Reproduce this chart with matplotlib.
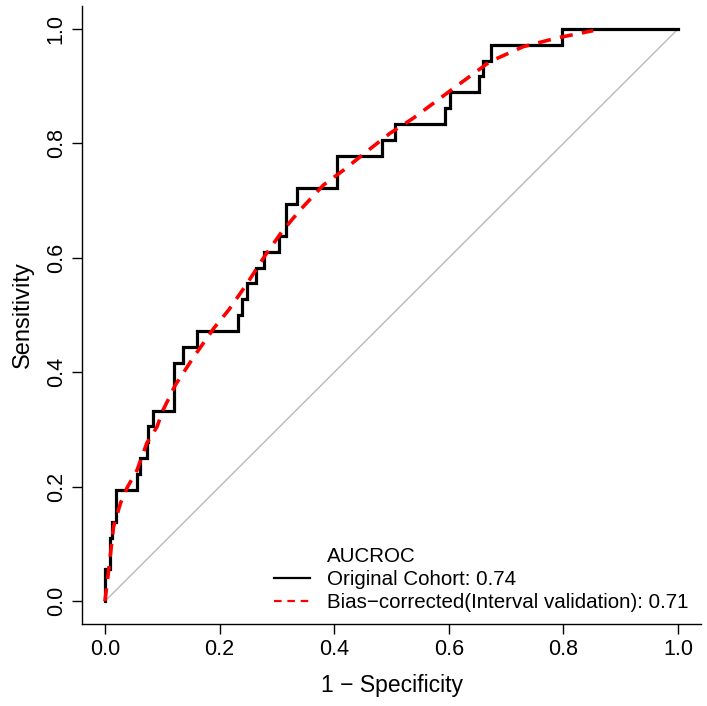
"""ROC curve: original cohort vs bias-corrected (internal validation)."""

import matplotlib

matplotlib.use("Agg")
import matplotlib.pyplot as plt
from matplotlib.lines import Line2D

plt.rcParams["font.family"] = ["Liberation Sans", "DejaVu Sans"]

# original cohort ROC, step curve (1 - specificity, sensitivity)
orig_fpr = [0.0, 0.0, 0.0095, 0.0095, 0.013, 0.013, 0.019, 0.019, 0.056, 0.056, 0.062,
            0.062, 0.073, 0.073, 0.076, 0.076, 0.083, 0.083, 0.12, 0.12, 0.137, 0.137,
            0.16, 0.16, 0.232, 0.232, 0.239, 0.239, 0.248, 0.248, 0.264, 0.264, 0.278,
            0.278, 0.303, 0.303, 0.316, 0.316, 0.335, 0.335, 0.405, 0.405, 0.483, 0.483,
            0.506, 0.506, 0.594, 0.594, 0.602, 0.602, 0.652, 0.652, 0.660, 0.660, 0.674,
            0.674, 0.797, 0.797, 1.0]
orig_tpr = [0.0, 0.056, 0.056, 0.111, 0.111, 0.139, 0.139, 0.194, 0.194, 0.222, 0.222,
            0.250, 0.250, 0.278, 0.278, 0.306, 0.306, 0.333, 0.333, 0.417, 0.417, 0.444,
            0.444, 0.472, 0.472, 0.500, 0.500, 0.528, 0.528, 0.556, 0.556, 0.583, 0.583,
            0.611, 0.611, 0.639, 0.639, 0.694, 0.694, 0.722, 0.722, 0.778, 0.778, 0.806,
            0.806, 0.833, 0.833, 0.861, 0.861, 0.889, 0.889, 0.917, 0.917, 0.944, 0.944,
            0.972, 0.972, 1.0, 1.0]

# bias-corrected smooth curve
bc_fpr = [0.0, 0.0065, 0.015, 0.027, 0.0385, 0.056, 0.073, 0.091, 0.1, 0.123, 0.155, 0.19,
          0.216, 0.248, 0.28, 0.309, 0.341, 0.381, 0.416, 0.457, 0.498, 0.538, 0.608,
          0.672, 0.73, 0.788, 0.852]
bc_tpr = [0.0, 0.054, 0.13, 0.171, 0.198, 0.229, 0.276, 0.305, 0.331, 0.378, 0.427, 0.477,
          0.509, 0.555, 0.605, 0.646, 0.684, 0.727, 0.753, 0.786, 0.818, 0.844, 0.896,
          0.943, 0.969, 0.984, 0.997]

auc_orig = 0.74
auc_bc = 0.71
ticks = [0.0, 0.2, 0.4, 0.6, 0.8, 1.0]

fig = plt.figure(figsize=(7.07, 7.06), dpi=100)
ax = fig.add_axes([0.116, 0.116, 0.8755, 0.8755])

ax.plot([0, 1], [0, 1], color="#bebebe", lw=1.1)
ax.plot(orig_fpr, orig_tpr, color="black", lw=2.3, solid_joinstyle="miter")
ax.plot(bc_fpr, bc_tpr, color="#ff0000", lw=2.6, linestyle=(0, (3.6, 2.6)))

ax.set_xlim(-0.04, 1.04)
ax.set_ylim(-0.04, 1.04)
ax.set_xticks(ticks)
ax.set_yticks(ticks)
ax.set_xticklabels([f"{t:.1f}" for t in ticks])
ax.set_yticklabels([f"{t:.1f}" for t in ticks], rotation=90, va="center")
ax.tick_params(direction="out", length=7.2, width=1, labelsize=15.5, pad=3.8)
for side in ("top", "right"):
    ax.spines[side].set_visible(False)
for side in ("left", "bottom"):
    ax.spines[side].set_linewidth(1)

ax.set_xlabel("1 \u2212 Specificity", fontsize=16.5, labelpad=10)
ax.set_ylabel("Sensitivity", fontsize=17, labelpad=8.5)

handles = [
    Line2D([], [], color="none"),
    Line2D([], [], color="black", lw=1.6),
    Line2D([], [], color="#ff0000", lw=1.6, linestyle=(0, (3.4, 2.6))),
]
labels = [
    "AUCROC",
    f"Original Cohort: {auc_orig:.2f}",
    f"Bias\u2212corrected(Interval validation): {auc_bc:.2f}",
]
ax.legend(handles, labels, loc="lower right", bbox_to_anchor=(1.0, 0.0), frameon=False,
          fontsize=14.8, handlelength=1.75, handletextpad=0.83, labelspacing=0.18,
          borderaxespad=0.2)

fig.savefig("out.png", dpi=100)
